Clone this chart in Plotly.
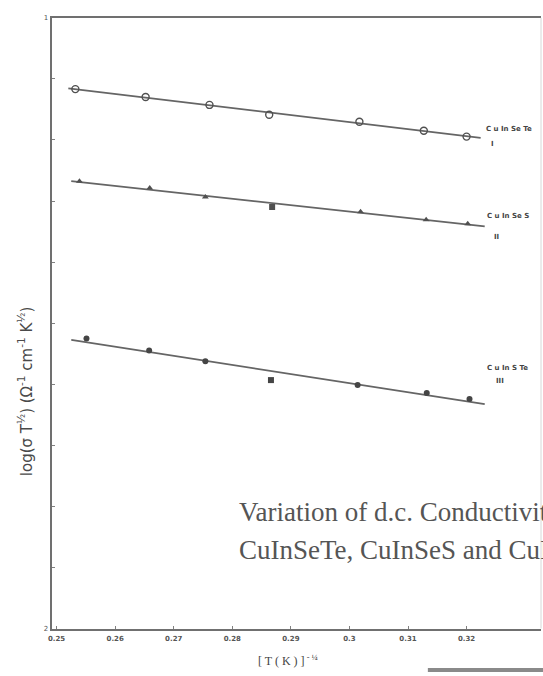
import numpy as np
import plotly.graph_objects as go

# T^(-1/4) values (K^-1/4) and log(sigma T^1/2) for each compound
x_sete = [0.2532, 0.2652, 0.2761, 0.2863, 0.3017, 0.3127, 0.3200]
y_sete = [-1.1167, -1.1297, -1.1426, -1.1588, -1.1702, -1.1848, -1.1945]

x_ses = [0.2539, 0.2659, 0.2754, 0.2868, 0.3019, 0.3131, 0.3202]
y_ses = [-1.2674, -1.2788, -1.2934, -1.3096, -1.3177, -1.3307, -1.3371]

x_ste = [0.2551, 0.2658, 0.2754, 0.2866, 0.3014, 0.3132, 0.3205]
y_ste = [-1.5251, -1.5446, -1.5624, -1.5932, -1.6013, -1.6143, -1.6240]

# extent of the least-squares lines
fit_span_sete = [0.2520, 0.3224]
fit_span_ses = [0.2525, 0.3231]
fit_span_ste = [0.2525, 0.3231]

x_tick_vals = [0.25, 0.26, 0.27, 0.28, 0.29, 0.30, 0.31, 0.32]
x_tick_text = ["<b>0.25</b>", "<b>0.26</b>", "<b>0.27</b>", "<b>0.28</b>",
               "<b>0.29</b>", "<b>0.3</b>", "<b>0.31</b>", "<b>0.32</b>"]
y_tick_vals = [-2.0, -1.0]
y_tick_text = ["2", "1"]

W, H = 543, 676
INK = "#505050"
LINE = "#656565"


def px_x(p):
    return p / W


def px_y(p):
    return (H - p) / H


fig = go.Figure()

series = [
    (x_sete, y_sete, fit_span_sete,
     dict(symbol="circle-open", size=7, color=INK, line=dict(width=1.4, color=INK))),
    (x_ses, y_ses, fit_span_ses,
     dict(symbol=["triangle-up", "triangle-up", "triangle-up", "square",
                  "triangle-up", "triangle-up", "triangle-up"],
          size=6, color=INK)),
    (x_ste, y_ste, fit_span_ste,
     dict(symbol=["circle", "circle", "circle", "square", "circle", "circle", "circle"],
          size=6, color="#454545")),
]

for xs, ys, span, marker in series:
    slope, icpt = np.polyfit(xs, ys, 1)
    fx = np.array(span)
    fig.add_trace(go.Scatter(x=fx, y=slope * fx + icpt, mode="lines",
                             line=dict(color=LINE, width=1.8),
                             hoverinfo="skip", showlegend=False))
    fig.add_trace(go.Scatter(x=xs, y=ys, mode="markers", marker=marker,
                             showlegend=False))

x_left = 0.25 - 5 / 5900
x_right = 0.25 + (541 - 53) / 5900

axis_common = dict(showgrid=False, zeroline=False, showline=True,
                   linecolor="#707070", linewidth=2, ticks="inside",
                   tickcolor="#808080", ticklen=3)

fig.update_layout(
    width=W, height=H,
    margin=dict(l=0, r=0, t=0, b=0),
    paper_bgcolor="white", plot_bgcolor="white",
    xaxis=dict(axis_common, range=[x_left, x_right], domain=[px_x(48), px_x(541)],
               tickvals=x_tick_vals, ticktext=x_tick_text, mirror=True,
               tickfont=dict(family="DejaVu Sans", size=7, color="#555"),
               ticklabelstandoff=2),
    yaxis=dict(axis_common, range=[-2.0, -1.0], domain=[px_y(632), px_y(14)],
               tickvals=y_tick_vals, ticktext=y_tick_text,
               minor=dict(dtick=0.1, ticks="inside", ticklen=3, tickcolor="#808080"),
               tickfont=dict(family="DejaVu Sans", size=7, color="#555")),
)

# faint right border of the frame
fig.add_shape(type="line", xref="paper", yref="paper",
              x0=px_x(541), x1=px_x(541), y0=px_y(632), y1=px_y(14),
              line=dict(color="#d8d8d8", width=1))

# strip along the lower edge
fig.add_shape(type="rect", xref="paper", yref="paper",
              x0=px_x(427), x1=1.0, y0=0, y1=px_y(672),
              line=dict(width=0), fillcolor="#8a8a8a")

lab_font = dict(family="DejaVu Sans", size=7, color="#444")
labels = [
    ("C u In Se Te", 484, 126), ("I", 489, 142),
    ("C u In Se S", 485, 215), ("II", 492, 236),
    ("C u In S Te", 485, 368), ("III", 494, 382),
]
for txt, lx, ly in labels:
    fig.add_annotation(text=f"<b>{txt}</b>", xref="paper", yref="paper",
                       x=px_x(lx), y=px_y(ly), xanchor="left", yanchor="middle",
                       showarrow=False, font=lab_font)

fig.add_annotation(text="[ T ( K ) ]<sup> - ¼</sup>", xref="paper", yref="paper",
                   x=px_x(286), y=px_y(664), xanchor="center", yanchor="middle",
                   showarrow=False,
                   font=dict(family="Liberation Serif", size=12, color="#444"))

fig.add_annotation(text="log(σ T<sup>½</sup>) (Ω<sup>-1</sup> cm<sup>-1</sup> K<sup>½</sup>)",
                   xref="paper", yref="paper", x=px_x(22), y=px_y(392),
                   xanchor="center", yanchor="middle", textangle=-90,
                   showarrow=False,
                   font=dict(family="DejaVu Sans", size=15, color="#4a4a4a"))

cap_font = dict(family="Liberation Serif", size=27, color="#555")
fig.add_annotation(text="Variation of d.c. Conductivity of", xref="paper", yref="paper",
                   x=px_x(235), y=px_y(514), xanchor="left", yanchor="middle",
                   showarrow=False, font=cap_font)
fig.add_annotation(text="CuInSeTe, CuInSeS and CuInSTe", xref="paper", yref="paper",
                   x=px_x(235), y=px_y(553), xanchor="left", yanchor="middle",
                   showarrow=False, font=cap_font)

fig.write_html("out.html")
